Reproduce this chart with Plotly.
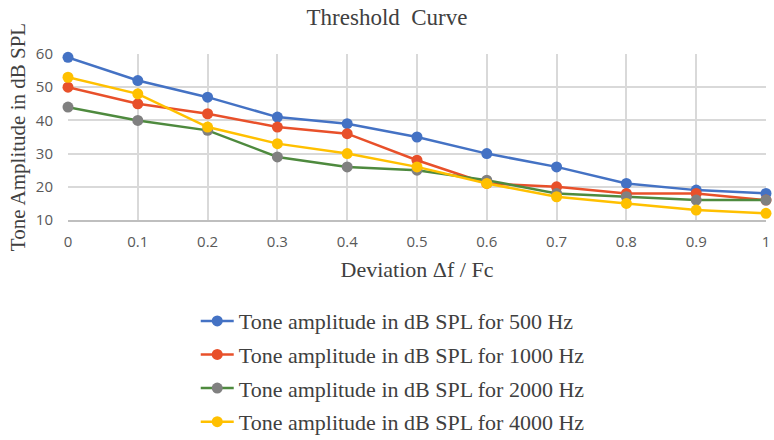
import plotly.graph_objects as go

deviation = [0, 0.1, 0.2, 0.3, 0.4, 0.5, 0.6, 0.7, 0.8, 0.9, 1]
tick_labels = ["0", "0.1", "0.2", "0.3", "0.4", "0.5", "0.6", "0.7", "0.8", "0.9", "1"]
hz500 = [59, 52, 47, 41, 39, 35, 30, 26, 21, 19, 18]
hz1000 = [50, 45, 42, 38, 36, 28, 21, 20, 18, 18, 16]
hz2000 = [44, 40, 37, 29, 26, 25, 22, 18, 17, 16, 16]
hz4000 = [53, 48, 38, 33, 30, 26, 21, 17, 15, 13, 12]
names = [
    "Tone amplitude in dB SPL for 500 Hz",
    "Tone amplitude in dB SPL for 1000 Hz",
    "Tone amplitude in dB SPL for 2000 Hz",
    "Tone amplitude in dB SPL for 4000 Hz",
]
series = [hz500, hz1000, hz2000, hz4000]
line_colors = ["#4472C4", "#E8502A", "#4E8A3E", "#FFC000"]
marker_colors = ["#4472C4", "#E8502A", "#808080", "#FFC000"]

fig = go.Figure()
for i, (nm, ys) in enumerate(zip(names, series)):
    fig.add_trace(go.Scatter(
        x=deviation, y=ys, name=nm, mode="lines+markers",
        line=dict(color=line_colors[i], width=2.5),
        marker=dict(color=marker_colors[i], size=11),
        legendgroup=f"g{i}", cliponaxis=False,
    ))

fig.update_layout(
    width=774, height=440,
    margin=dict(l=68, r=8, t=54, b=220, autoexpand=False),
    paper_bgcolor="white", plot_bgcolor="white",
    title=dict(text="Threshold  Curve", x=0.5, xanchor="center", y=0.962, yanchor="middle",
               font=dict(family="Liberation Serif", size=23, color="#404040")),
    font=dict(family="Liberation Serif", color="#404040"),
    legend=dict(x=0.183, y=0.318, xanchor="left", yanchor="top", yref="container",
                font=dict(family="Liberation Serif", size=22, color="#404040"),
                traceorder="grouped", tracegroupgap=2, itemwidth=33,
                bgcolor="rgba(0,0,0,0)"),
    xaxis=dict(range=[0, 1], tickvals=deviation, ticktext=tick_labels,
               showgrid=True, gridcolor="#D9D9D9", gridwidth=1.5,
               showline=True, linecolor="#BFBFBF", linewidth=2, mirror=False,
               zeroline=False, ticks="", ticklabelstandoff=7,
               tickfont=dict(family="Open Sans", size=15, color="#595959"),
               title=dict(text="Deviation \u0394f / Fc", standoff=12,
                          font=dict(family="Liberation Serif", size=22, color="#404040"))),
    yaxis=dict(range=[10, 60], tickvals=[10, 20, 30, 40, 50, 60],
               showgrid=True, gridcolor="#D9D9D9", gridwidth=1.5,
               zeroline=False, ticks="", ticklabelstandoff=14,
               tickfont=dict(family="Open Sans", size=15, color="#595959"),
               title=dict(text="Tone Amplitude in dB SPL", standoff=4,
                          font=dict(family="Liberation Serif", size=21, color="#404040"))),
)

fig.write_html("out.html")
